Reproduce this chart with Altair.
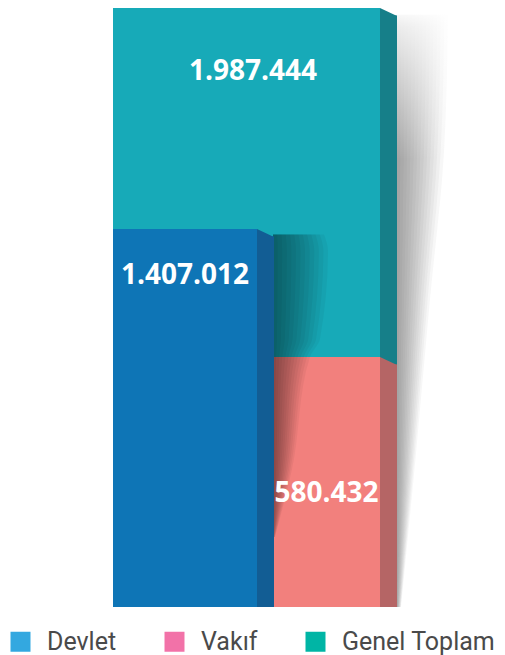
import altair as alt
import pandas as pd

# ---- data ----
categories = ["Devlet", "Vakıf", "Genel Toplam"]
values = [1407012, 580432, 1987444]
value_labels = ["1.407.012", "580.432", "1.987.444"]

# ---- styles ----
front_colors = ["#0E75B6", "#F2807D", "#17AAB8"]
side_colors = ["#125D94", "#B56565", "#167F89"]
legend_colors = ["#33A8E0", "#F272A8", "#00B5A5"]

# ---- layout (plot units) ----
W, H = 489, 599
SIDE = 17
SLANT = 8
x_front_start = [105, 265, 105]
x_front_end = [249, 372, 372]
label_dy = [47, 137, 64]
draw_order = ["Genel Toplam", "Vakıf", "Devlet"]
# visual (non-proportional) height mapping used by the original infographic
y_domain = [0, values[1], values[0], values[2]]
y_range = [H, 349, 221, 0]

df = pd.DataFrame({
    "cat": categories,
    "value": values,
    "label": value_labels,
    "x0": x_front_start,
    "x1": x_front_end,
    "front": front_colors,
    "side": side_colors,
})
df["xs"] = df["x1"] + SIDE
df["xm"] = df["x1"] + SIDE / 2
df["xc"] = (df["x0"] + df["x1"]) / 2
df.loc[df["cat"] == "Genel Toplam", "xc"] = (105 + 372 + SIDE) / 2 - 2
df["ord"] = df["cat"].map({c: i for i, c in enumerate(draw_order)})
df = df.sort_values("ord").reset_index(drop=True)

ys = alt.Scale(domain=y_domain, range=y_range, nice=False, zero=False)
xs = alt.Scale(domain=[0, W], nice=False, zero=False)

base = alt.Chart(df)

# legend carrier (hidden underneath bars)
leg_df = pd.DataFrame({"cat": categories, "v": [values[2] * 0.5] * 3, "x": [200] * 3})
legend_layer = alt.Chart(leg_df).mark_square(size=1, opacity=1).encode(
    x=alt.X("x:Q", scale=xs, axis=None),
    y=alt.Y("v:Q", scale=ys, axis=None),
    color=alt.Color(
        "cat:N",
        scale=alt.Scale(domain=categories, range=legend_colors),
        sort=categories,
        legend=alt.Legend(
            orient="none", legendX=0, legendY=621, direction="horizontal",
            title=None, symbolType="square", symbolSize=400, symbolStrokeWidth=0,
            symbolOpacity=1, labelFont="Roboto", labelFontSize=25,
            labelColor="#4a4a4a", labelOffset=14, columnPadding=45, padding=0,
            labelLimit=300,
        ),
    ),
)


def soft_shadow(ys_pts, xa, xb_pts, n, alpha, color):
    rows = []
    for k in range(1, n + 1):
        f = k / n
        for yv, xb in zip(ys_pts, xb_pts):
            rows.append({"k": k, "y": yv, "xa": xa, "xb": xa + (xb - xa) * f})
    sdf = pd.DataFrame(rows)
    return alt.Chart(sdf).mark_area(
        orient="horizontal", interpolate="monotone", color=color, opacity=alpha,
    ).encode(
        y=alt.Y("y:Q", scale=ys, axis=None),
        x=alt.X("xa:Q", scale=xs, axis=None),
        x2="xb:Q",
        detail="k:N",
    )


total = values[2]
dev = values[0]
vak = values[1]

# right drop shadow of the tall column
right_shadow = soft_shadow(
    [total * 0.991, total * 0.81, total * 0.48, total * 0.18, 0],
    389, [440, 436, 422, 408, 393], 14, 0.045, "#3a3d42",
)
fade_df = pd.DataFrame({"y": [total], "y2": [total * 0.80], "xa": [389], "xb": [450]})
top_fade = alt.Chart(fade_df).mark_rect(
    color=alt.Gradient(
        gradient="linear", x1=0, y1=0, x2=0, y2=1,
        stops=[alt.GradientStop(offset=0, color="rgba(255,255,255,1)"),
               alt.GradientStop(offset=0.12, color="rgba(255,255,255,0.8)"),
               alt.GradientStop(offset=1, color="rgba(255,255,255,0)")],
    ),
).encode(
    y=alt.Y("y:Q", scale=ys, axis=None),
    y2="y2:Q",
    x=alt.X("xa:Q", scale=xs, axis=None),
    x2="xb:Q",
)

fronts = base.mark_rect().encode(
    x=alt.X("x0:Q", scale=xs, axis=None),
    x2="x1:Q",
    y=alt.Y("value:Q", scale=ys, axis=None),
    y2=alt.datum(0),
    color=alt.Color("front:N", scale=None),
    order=alt.Order("ord:Q"),
)

# shadow cast by the Devlet column
blue_shadow = soft_shadow(
    [dev * 0.975, dev * 0.9, vak * 1.2, vak, vak * 0.55, vak * 0.28],
    265, [316, 320, 312, 302, 284, 267], 12, 0.045, "#000000",
)

sides = base.mark_rect(yOffset=SLANT - 0.5).encode(
    x=alt.X("x1:Q", scale=xs, axis=None),
    x2="xs:Q",
    y=alt.Y("value:Q", scale=ys, axis=None),
    y2=alt.datum(0),
    color=alt.Color("side:N", scale=None),
    order=alt.Order("ord:Q"),
)

h = SLANT / SIDE
tri_path = f"M-1,-{h:.3f}L1,{h:.3f}L-1,{h:.3f}Z"
tops = base.mark_point(
    shape=tri_path, size=SIDE * SIDE, filled=True, opacity=1,
    strokeWidth=0, yOffset=SLANT / 2,
).encode(
    x=alt.X("xm:Q", scale=xs, axis=None),
    y=alt.Y("value:Q", scale=ys, axis=None),
    color=alt.Color("side:N", scale=None),
)

text_style = dict(font="Open Sans", fontSize=28, fontWeight="bold",
                  color="white", align="center", baseline="middle")
label_layers = []
for cat, dy in zip(categories, label_dy):
    label_layers.append(
        base.transform_filter(alt.FieldEqualPredicate(field="cat", equal=cat))
        .mark_text(dy=dy, **text_style)
        .encode(
            x=alt.X("xc:Q", scale=xs, axis=None),
            y=alt.Y("value:Q", scale=ys, axis=None),
            text="label:N",
        )
    )

chart = alt.layer(
    legend_layer, right_shadow, top_fade, fronts, blue_shadow, sides, tops,
    *label_layers,
).properties(
    width=W, height=H,
    padding={"left": 0, "top": 0, "right": 0, "bottom": 48},
    autosize=alt.AutoSizeParams(type="none"),
    background="white",
).configure_view(stroke=None)

chart.save("out.html", embed_options={"renderer": "svg", "actions": False})
